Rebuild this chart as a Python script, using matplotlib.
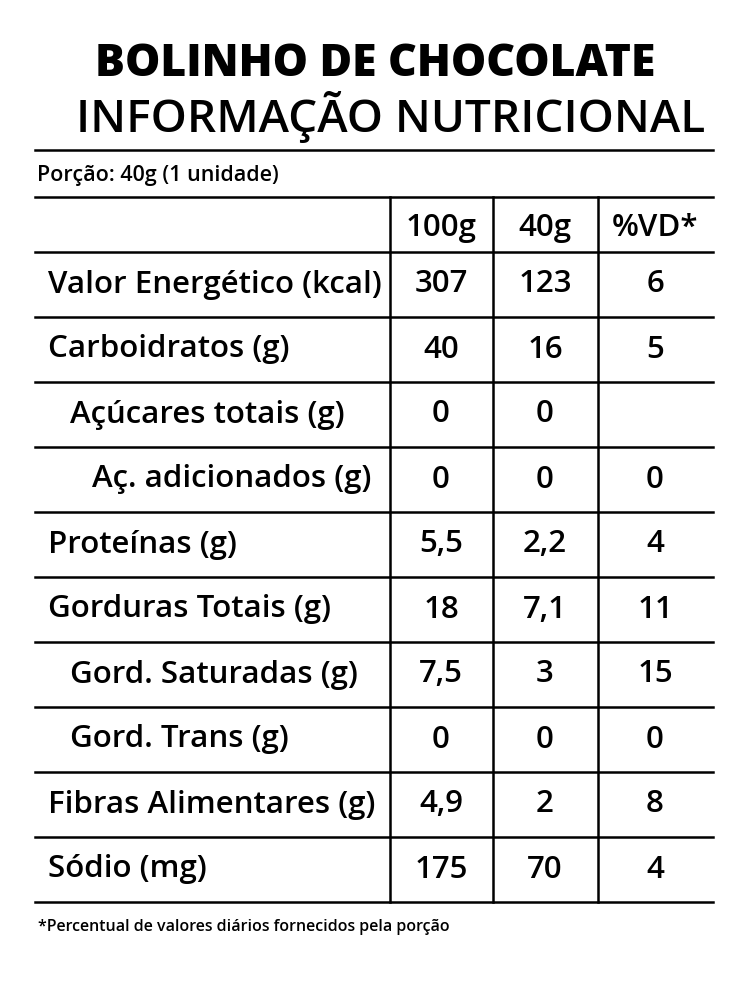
import matplotlib
matplotlib.use("Agg")
import matplotlib.pyplot as plt

title1 = "BOLINHO DE CHOCOLATE"
title2 = "INFORMAÇÃO NUTRICIONAL"
portion = "Porção: 40g (1 unidade)"
headers = ["100g", "40g", "%VD*"]
labels = ["Valor Energético (kcal)", "Carboidratos (g)", "Açúcares totais (g)",
          "Aç. adicionados (g)", "Proteínas (g)", "Gorduras Totais (g)",
          "Gord. Saturadas (g)", "Gord. Trans (g)", "Fibras Alimentares (g)", "Sódio (mg)"]
indent = [0, 0, 1, 2, 0, 0, 1, 1, 0, 0]
col100 = ["307", "40", "0", "0", "5,5", "18", "7,5", "0", "4,9", "175"]
col40 = ["123", "16", "0", "0", "2,2", "7,1", "3", "0", "2", "70"]
colvd = ["6", "5", "", "0", "4", "11", "15", "0", "8", "4"]
footnote = "*Percentual de valores diários fornecidos pela porção"

W, H = 749, 981
fig = plt.figure(figsize=(W/100, H/100), dpi=100)
ax = fig.add_axes([0, 0, 1, 1])
ax.set_xlim(0, W); ax.set_ylim(H, 0); ax.axis("off")
fam = ["Open Sans", "DejaVu Sans"]

ax.text(375, 64, title1, ha="center", va="center", fontsize=32, fontweight="heavy", family=fam)
ax.text(391, 117, title2, ha="center", va="center", fontsize=33, fontweight="semibold", family=fam)
x0, x1 = 35, 713
lw = 1.8
for y in [150, 197]:
    ax.plot([x0, x1], [y, y], color="black", lw=lw)
ax.text(37, 175, portion, ha="left", va="center", fontsize=15.5, fontweight="semibold", family=fam)

top, hdr = 197, 252
rowh = 65
n = len(labels)
bottom = hdr + n * rowh
for x in [390, 493, 598]:
    ax.plot([x, x], [top, bottom], color="black", lw=lw)
for i in range(n + 1):
    y = hdr + i * rowh
    ax.plot([x0, x1], [y, y], color="black", lw=lw)
centers = [441, 545, 655]
fs = 22.5
for c, h in zip(centers, headers):
    ax.text(c, 228, h, ha="center", va="center", fontsize=fs, fontweight="semibold", family=fam)
for i in range(n):
    yc = hdr + i * rowh + rowh / 2
    ax.text(48 + 22 * indent[i], yc, labels[i], ha="left", va="center", fontsize=fs,
            fontweight="semibold", family=fam)
    for c, v in zip(centers, [col100[i], col40[i], colvd[i]]):
        ax.text(c, yc, v, ha="center", va="center", fontsize=fs, fontweight="semibold", family=fam)
ax.text(38, 927, footnote, ha="left", va="center", fontsize=11.5, fontweight="semibold", family=fam)
fig.savefig("out.png", dpi=100, facecolor="white")
